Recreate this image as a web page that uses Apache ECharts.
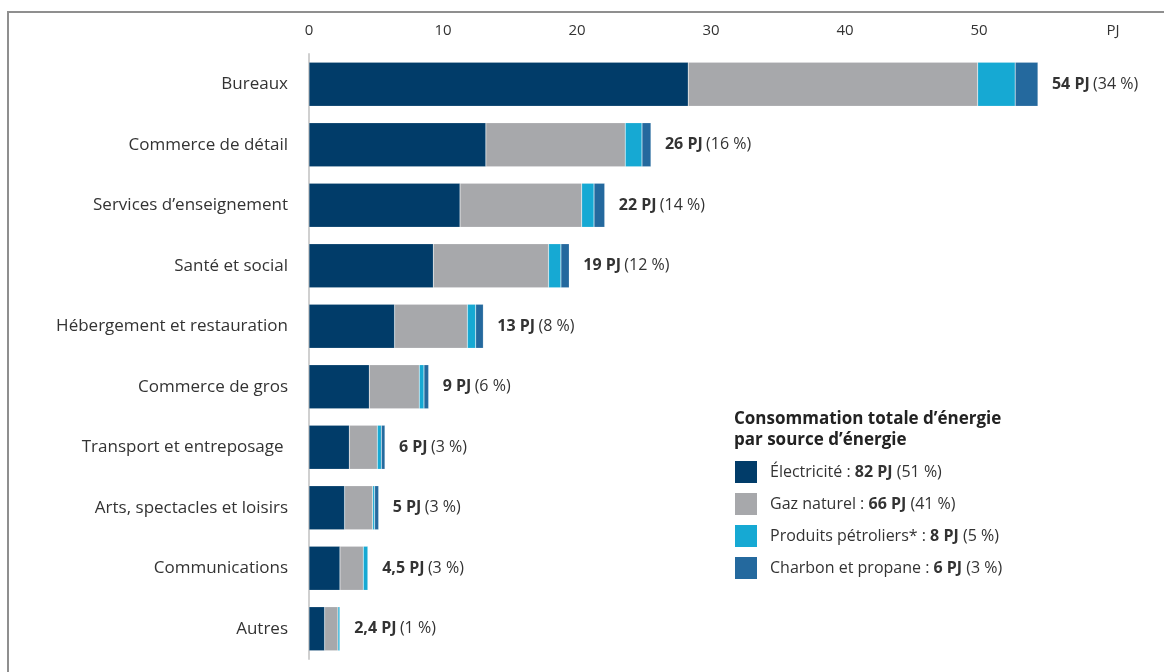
<!DOCTYPE html>
<html>
<head>
<meta charset="utf-8">
<script src="https://cdn.jsdelivr.net/npm/echarts@6/dist/echarts.min.js"></script>
<style>
html,body{margin:0;padding:0;background:#fff;}
#chart{width:1164px;height:672px;}
</style>
</head>
<body>
<div id="chart"></div>
<script>
const categories = ["Bureaux","Commerce de détail","Services d’enseignement","Santé et social","Hébergement et restauration","Commerce de gros","Transport et entreposage ","Arts, spectacles et loisirs","Communications","Autres"];
const electricite = [28.3, 13.2, 11.27, 9.28, 6.39, 4.5, 3.01, 2.66, 2.31, 1.17];
const gazNaturel = [21.6, 10.4, 9.08, 8.6, 5.43, 3.73, 2.09, 2.09, 1.74, 0.99];
const petroliers = [2.8, 1.25, 0.92, 0.92, 0.62, 0.35, 0.3, 0.15, 0.35, 0.15];
const charbonPropane = [1.7, 0.67, 0.8, 0.62, 0.57, 0.35, 0.27, 0.3, 0, 0];
const totalLabels = ["54 PJ","26 PJ","22 PJ","19 PJ","13 PJ","9 PJ","6 PJ","5 PJ","4,5 PJ","2,4 PJ"];
const shareLabels = ["(34 %)","(16 %)","(14 %)","(12 %)","(8 %)","(6 %)","(3 %)","(3 %)","(3 %)","(1 %)"];
const seriesNames = ["Électricité","Gaz naturel","Produits pétroliers*","Charbon et propane"];
const legendTotals = ["82 PJ","66 PJ","8 PJ","6 PJ"];
const legendShares = ["(51 %)","(41 %)","(5 %)","(3 %)"];
const xTicks = ["0","10","20","30","40","50","PJ"];
const legendTitle = "Consommation totale d’énergie\npar source d’énergie";

const colors = ["#013c69","#a7a8ab","#16a9d3","#24699e"];
const FONT = "Open Sans";

const chart = echarts.init(document.getElementById('chart'), null, {renderer:'canvas'});
const dataSets = [electricite, gazNaturel, petroliers, charbonPropane];

const series = dataSets.map((d, i) => {
  const s = {
    name: seriesNames[i],
    type: 'bar',
    stack: 'total',
    barWidth: 44,
    data: d,
    itemStyle: {color: colors[i], borderColor: 'rgba(255,255,255,0.35)', borderWidth: 0.5},
    emphasis: {disabled: true}
  };
  if (i === dataSets.length - 1) {
    s.label = {
      show: true,
      position: 'right',
      distance: 14,
      formatter: p => '{b|' + totalLabels[p.dataIndex] + '} {n|' + shareLabels[p.dataIndex] + '}',
      rich: {
        b: {fontFamily: FONT, fontWeight: 'bold', fontSize: 16, color: '#333'},
        n: {fontFamily: FONT, fontSize: 16, color: '#333'}
      }
    };
  }
  return s;
});

chart.setOption({
  animation: false,
  backgroundColor: '#fff',
  title: {
    text: legendTitle,
    left: 729,
    top: 404,
    textStyle: {fontFamily: FONT, fontWeight: 'bold', fontSize: 17, color: '#222', lineHeight: 21}
  },
  legend: {
    orient: 'vertical',
    left: 730,
    top: 456,
    itemWidth: 22,
    itemHeight: 22,
    itemGap: 10,
    icon: 'rect',
    selectedMode: false,
    data: seriesNames,
    formatter: name => {
      const i = seriesNames.indexOf(name);
      return '{f|' + name + ' : }{b|' + legendTotals[i] + '}{n| ' + legendShares[i] + '}';
    },
    textStyle: {
      fontFamily: FONT, fontSize: 16, color: '#333',
      rich: {
        f: {fontFamily: FONT, fontSize: 16, color: '#333', padding: [0, 0, 0, 8]},
        n: {fontFamily: FONT, fontSize: 16, color: '#333'},
        b: {fontFamily: FONT, fontSize: 16, fontWeight: 'bold', color: '#333'}
      }
    },
    itemStyle: {borderWidth: 0}
  },
  grid: {left: 309, right: 51, top: 54, bottom: 13, containLabel: false},
  xAxis: {
    type: 'value',
    position: 'top',
    min: 0,
    max: 60,
    interval: 10,
    axisLine: {show: false},
    axisTick: {show: false},
    splitLine: {show: false},
    axisLabel: {
      margin: 16,
      fontFamily: FONT,
      fontSize: 15,
      color: '#333',
      formatter: v => xTicks[Math.round(v / 10)]
    }
  },
  yAxis: {
    type: 'category',
    inverse: true,
    data: categories,
    axisLine: {show: true, lineStyle: {color: '#d0d0d0', width: 2}},
    axisTick: {show: false},
    axisLabel: {margin: 21, fontFamily: FONT, fontSize: 17, color: '#333', padding: [0, 0, 8, 0]}
  },
  graphic: [{
    type: 'polyline',
    shape: {points: [[8, 700], [8, 12], [1200, 12]]},
    style: {stroke: '#8f8f8f', lineWidth: 2, fill: null}
  }],
  series: series
});
</script>
</body>
</html>
